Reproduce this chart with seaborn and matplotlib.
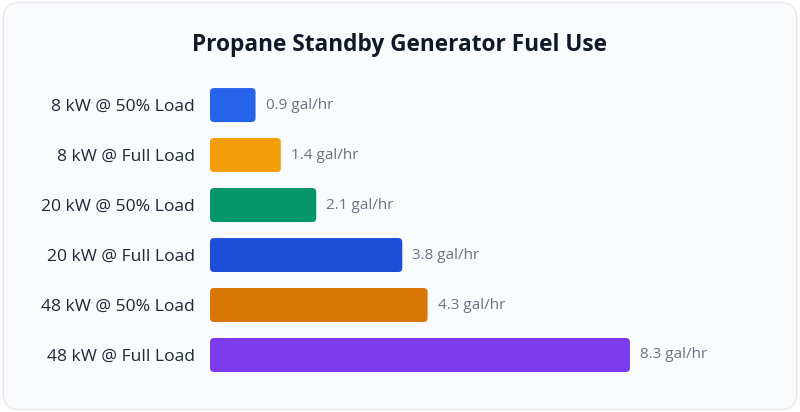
import matplotlib
matplotlib.use("Agg")
import matplotlib.pyplot as plt
import pandas as pd
import seaborn as sns
from matplotlib.patches import FancyBboxPatch

categories = [
    "8 kW @ 50% Load",
    "8 kW @ Full Load",
    "20 kW @ 50% Load",
    "20 kW @ Full Load",
    "48 kW @ 50% Load",
    "48 kW @ Full Load",
]
fuel_use = [0.9, 1.4, 2.1, 3.8, 4.3, 8.3]
colors = ["#2563eb", "#f59e0b", "#059669", "#1d4ed8", "#d97706", "#7c3aed"]

df = pd.DataFrame({"setup": categories, "gal": fuel_use})

sns.set_style("white")
plt.rcParams["font.family"] = ["Open Sans", "DejaVu Sans"]

fig = plt.figure(figsize=(8, 4.12), dpi=100)
fig.patch.set_facecolor("white")

# card background, kept behind the axes
card = FancyBboxPatch((0.004, 0.006), 0.992, 0.988, transform=fig.transFigure,
                      boxstyle="round,pad=0,rounding_size=0.02",
                      facecolor="#f8fafc", edgecolor="#e5e7eb", linewidth=1.0,
                      mutation_aspect=800 / 412, zorder=-5)
fig.patches.append(card)

ax = fig.add_axes([0.2625, 0.0777, 0.6875, 0.728])
ax.set_facecolor("none")
ax.set_zorder(2)

sns.barplot(data=df, y="setup", x="gal", hue="setup", palette=colors,
            saturation=1, legend=False, orient="h", width=0.68, ax=ax)

# swap plain bars for rounded ones
for patch in list(ax.patches):
    x0, y0 = patch.get_x(), patch.get_y()
    w, h = patch.get_width(), patch.get_height()
    fc = patch.get_facecolor()
    patch.remove()
    ax.add_patch(FancyBboxPatch((x0, y0), w, h,
                                boxstyle="round,pad=0,rounding_size=0.08",
                                facecolor=fc, edgecolor="none"))

for i, v in enumerate(fuel_use):
    ax.text(v + 0.2, i, f"{v} gal/hr", va="center", ha="left",
            fontsize=11, color="#6b7280")

ax.set_xlim(0, 10.87)
ax.set_ylim(5.5, -0.5)
ax.set_xlabel("")
ax.set_ylabel("")
ax.set_xticks([])
ax.tick_params(axis="y", length=0, pad=11, labelsize=12.6, labelcolor="#1f2937")
sns.despine(ax=ax, left=True, bottom=True)

fig.text(0.5, 0.891, "Propane Standby Generator Fuel Use", ha="center",
         va="center", fontsize=16.3, fontweight="bold", color="#111827")

fig.savefig("out.png", dpi=100, facecolor=fig.get_facecolor())
